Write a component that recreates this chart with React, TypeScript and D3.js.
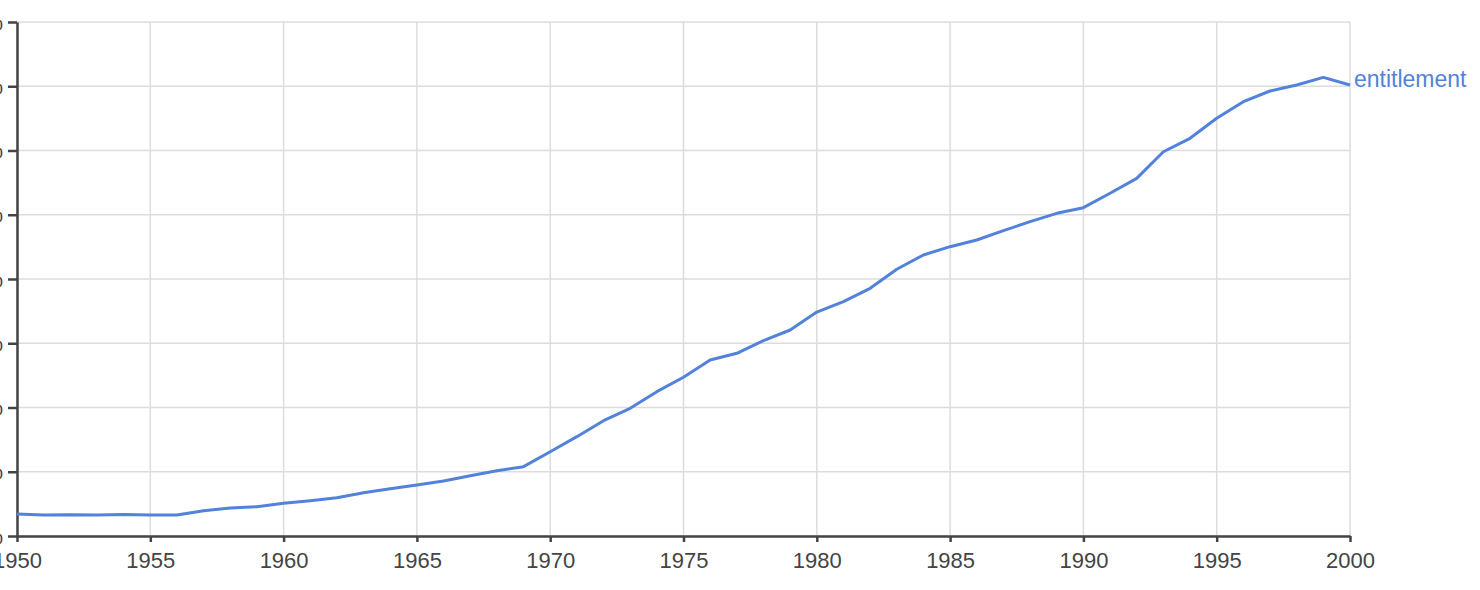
import * as d3 from "d3";
import { useEffect, useRef } from "react";

// share of the word, in units of 0.0000001 %
const years = d3.range(1950, 2001);
const entitlement = [
  3.42, 3.27, 3.32, 3.27, 3.35, 3.27, 3.27, 3.94, 4.36, 4.56,
  5.09, 5.49, 5.96, 6.74, 7.36, 7.94, 8.56, 9.39, 10.16, 10.79,
  13.12, 15.46, 17.95, 19.88, 22.46, 24.7, 27.39, 28.44, 30.4, 32.06,
  34.86, 36.47, 38.55, 41.51, 43.74, 45.03, 46.07, 47.52, 48.92, 50.22,
  51.1, 53.34, 55.67, 59.81, 61.9, 65.01, 67.6, 69.26, 70.19, 71.39,
  70.19,
];
const seriesName = "entitlement";
const yTicks = [0, 10, 20, 30, 40, 50, 60, 70, 80];
const xTicks = [1950, 1955, 1960, 1965, 1970, 1975, 1980, 1985, 1990, 1995, 2000];

const App = () => {
  const ref = useRef<SVGSVGElement>(null);

  useEffect(() => {
    const svg = d3.select(ref.current);
    svg.selectAll("*").remove();

    const left = 17,
      right = 1350,
      top = 22,
      bottom = 536;
    const font = "Liberation Sans, Arial, sans-serif";

    const x = d3.scaleLinear().domain([1950, 2000]).range([left, right]);
    const y = d3.scaleLinear().domain([0, 80]).range([bottom, top]);

    // grid
    const grid = svg.append("g");
    grid
      .selectAll(".hg")
      .data(yTicks)
      .enter()
      .append("line")
      .attr("x1", left)
      .attr("x2", right)
      .attr("y1", (d) => y(d))
      .attr("y2", (d) => y(d))
      .attr("stroke", "#dcdcdc")
      .attr("stroke-width", 1.5);
    grid
      .selectAll(".vg")
      .data(xTicks)
      .enter()
      .append("line")
      .attr("x1", (d) => x(d))
      .attr("x2", (d) => x(d))
      .attr("y1", top)
      .attr("y2", bottom)
      .attr("stroke", "#dcdcdc")
      .attr("stroke-width", 1.5);

    // y axis (labels run off the left edge, as in the original)
    const yAxis = svg
      .append("g")
      .attr("transform", `translate(${left},0)`)
      .call(
        d3
          .axisLeft(y)
          .tickValues(yTicks)
          .tickSize(9)
          .tickSizeOuter(0)
          .tickPadding(5)
          .tickFormat((d) => `${((d as number) * 1e-7).toFixed(7)}%`)
      );
    yAxis.select(".domain").attr("stroke", "#444").attr("stroke-width", 2.5);
    yAxis.selectAll(".tick line").attr("stroke", "#444").attr("stroke-width", 2.5);
    yAxis
      .selectAll(".tick text")
      .attr("fill", "#444")
      .style("font-size", "22px")
      .style("font-family", font);

    // x axis
    const xAxis = svg
      .append("g")
      .attr("transform", `translate(0,${bottom})`)
      .call(
        d3
          .axisBottom(x)
          .tickValues(xTicks)
          .tickSize(6)
          .tickSizeOuter(0)
          .tickPadding(10)
          .tickFormat(d3.format("d"))
      );
    xAxis.select(".domain").attr("stroke", "#444").attr("stroke-width", 2.5);
    xAxis.selectAll(".tick line").attr("stroke", "#444").attr("stroke-width", 2.5);
    xAxis
      .selectAll(".tick text")
      .attr("fill", "#444")
      .style("font-size", "22px")
      .style("font-family", font);

    // line
    const line = d3
      .line<number>()
      .x((_, i) => x(years[i]))
      .y((d) => y(d));

    svg
      .append("path")
      .datum(entitlement)
      .attr("d", line)
      .attr("fill", "none")
      .attr("stroke", "#5282db")
      .attr("stroke-width", 3)
      .attr("stroke-linejoin", "round");

    svg
      .append("text")
      .attr("x", x(2000) + 4)
      .attr("y", y(entitlement[entitlement.length - 1]) + 2)
      .attr("fill", "#5282db")
      .style("font-size", "23px")
      .style("font-family", font)
      .text(seriesName);
  }, []);

  return (
    <svg
      ref={ref}
      width={1480}
      height={590}
      style={{ position: "absolute", left: 0, top: 0, background: "#fff" }}
    />
  );
};

export default App;
